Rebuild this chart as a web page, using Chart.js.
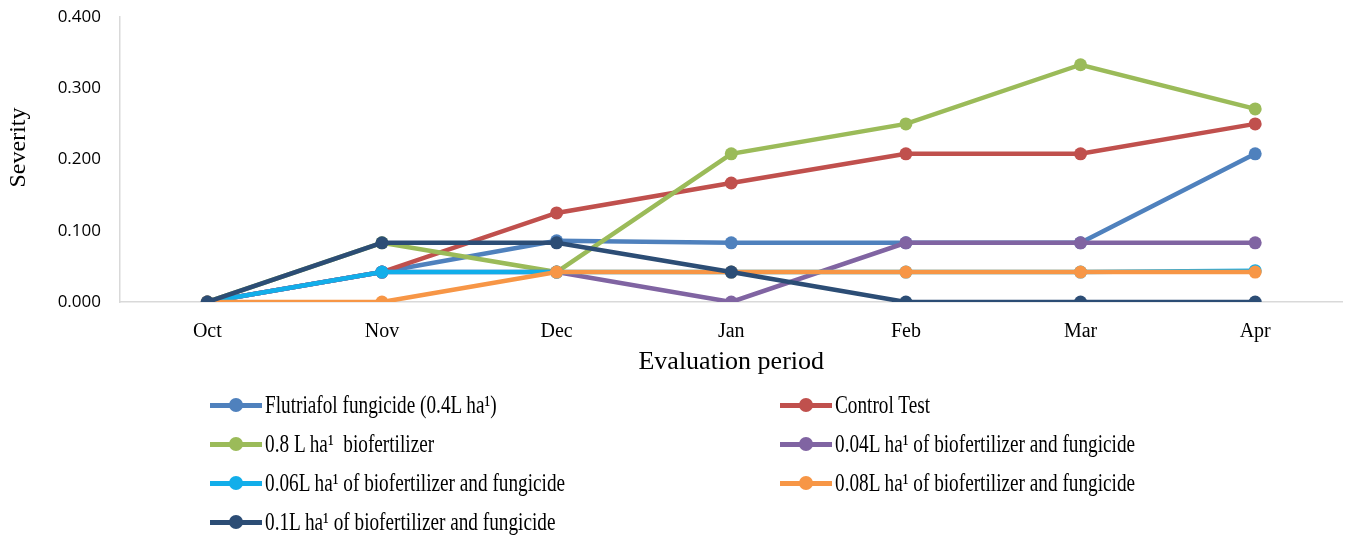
<!DOCTYPE html>
<html>
<head>
<meta charset="utf-8">
<script src="https://cdn.jsdelivr.net/npm/chart.js@4.4.1/dist/chart.umd.min.js"></script>
<style>
  html, body { margin: 0; padding: 0; background: #fff; }
  #wrap { position: relative; width: 1349px; height: 539px; }
  #legend {
    position: absolute; left: 210px; top: 385px;
    display: grid; grid-template-columns: 570px 560px;
    font-family: "Liberation Serif", "Times New Roman", serif;
    font-size: 25px; color: #000;
  }
  .item { display: flex; align-items: center; height: 39px; white-space: pre; }
  .mk { position: relative; width: 52px; height: 14px; margin-right: 3px; flex: none; }
  .mk .ln { position: absolute; left: 0; right: 0; top: 5px; height: 5px; }
  .mk .pt { position: absolute; left: 19px; top: 0; width: 14px; height: 14px; border-radius: 50%; }
  .tx { display: inline-block; transform: scaleX(0.77); transform-origin: left center; }
</style>
</head>
<body>
<div id="wrap">
  <canvas id="grafico" width="1349" height="539"></canvas>
  <div id="legend"></div>
</div>
<script>
// Datos del gráfico
const meses = ["Oct", "Nov", "Dec", "Jan", "Feb", "Mar", "Apr"];
const flutriafol = [0, 0.042, 0.086, 0.083, 0.083, 0.083, 0.208];
const testigo = [0, 0.042, 0.125, 0.167, 0.208, 0.208, 0.250];
const bio08 = [0, 0.083, 0.042, 0.208, 0.250, 0.333, 0.271];
const mezcla004 = [0, 0.042, 0.042, 0, 0.083, 0.083, 0.083];
const mezcla006 = [0, 0.042, 0.042, 0.042, 0.042, 0.042, 0.044];
const mezcla008 = [0, 0, 0.042, 0.042, 0.042, 0.042, 0.042];
const mezcla01 = [0, 0.083, 0.083, 0.042, 0, 0, 0];
const ticksY = [0, 0.1, 0.2, 0.3, 0.4];

const series = [
  { label: "Flutriafol fungicide (0.4L ha¹)", data: flutriafol, color: "#4F81BD" },
  { label: "Control Test", data: testigo, color: "#C0504D" },
  { label: "0.8 L ha¹  biofertilizer", data: bio08, color: "#9BBB59" },
  { label: "0.04L ha¹ of biofertilizer and fungicide", data: mezcla004, color: "#8064A2" },
  { label: "0.06L ha¹ of biofertilizer and fungicide", data: mezcla006, color: "#12AEEA" },
  { label: "0.08L ha¹ of biofertilizer and fungicide", data: mezcla008, color: "#F79646" },
  { label: "0.1L ha¹ of biofertilizer and fungicide", data: mezcla01, color: "#2C4D75" }
];

const serif = "'Liberation Serif', 'Times New Roman', serif";

const ctx = document.getElementById("grafico").getContext("2d");
const chart = new Chart(ctx, {
  type: "line",
  data: {
    labels: meses,
    datasets: series.map((s, i) => ({
      label: s.label,
      data: s.data,
      borderColor: s.color,
      backgroundColor: s.color,
      borderWidth: 4.5,
      pointRadius: 6.5,
      pointHoverRadius: 6.5,
      pointBorderWidth: 0,
      fill: false,
      tension: 0,
      order: series.length - i // la última serie queda encima, como en Excel
    }))
  },
  options: {
    responsive: false,
    animation: false,
    layout: { padding: { top: 17, right: 6, bottom: 161, left: 0 } },
    plugins: {
      legend: { display: false },
      tooltip: { enabled: false }
    },
    scales: {
      x: {
        offset: true,
        grid: { display: false },
        border: { display: true, color: "#D9D9D9", width: 1.5 },
        ticks: { color: "#000", font: { family: serif, size: 20 }, padding: 10 },
        title: {
          display: true, text: "Evaluation period", color: "#000",
          font: { family: serif, size: 26 }, padding: { top: 0, bottom: 0 }
        },
        afterFit: (scale) => { scale.height = 76; }
      },
      y: {
        min: 0, max: 0.4,
        afterBuildTicks: (scale) => { scale.ticks = ticksY.map(v => ({ value: v })); },
        grid: { display: false },
        border: { display: true, color: "#D9D9D9", width: 1.5 },
        ticks: {
          color: "#000", padding: 11,
          font: { family: "'Open Sans', 'Liberation Sans', sans-serif", size: 17 },
          callback: (v) => Number(v).toFixed(3)
        },
        title: {
          display: true, text: "    Severity", color: "#000",
          font: { family: serif, size: 24 }, padding: { bottom: 6 }
        },
        afterFit: (scale) => {
          scale.width = 120;
          scale.paddingTop = 0;
        }
      }
    }
  }
});

// Leyenda en dos columnas
const legend = document.getElementById("legend");
chart.data.datasets.forEach(ds => {
  const item = document.createElement("div");
  item.className = "item";
  item.innerHTML = `<span class="mk"><span class="ln" style="background:${ds.borderColor}"></span>` +
    `<span class="pt" style="background:${ds.borderColor}"></span></span>` +
    `<span class="tx">${ds.label}</span>`;
  legend.appendChild(item);
});
</script>
</body>
</html>
